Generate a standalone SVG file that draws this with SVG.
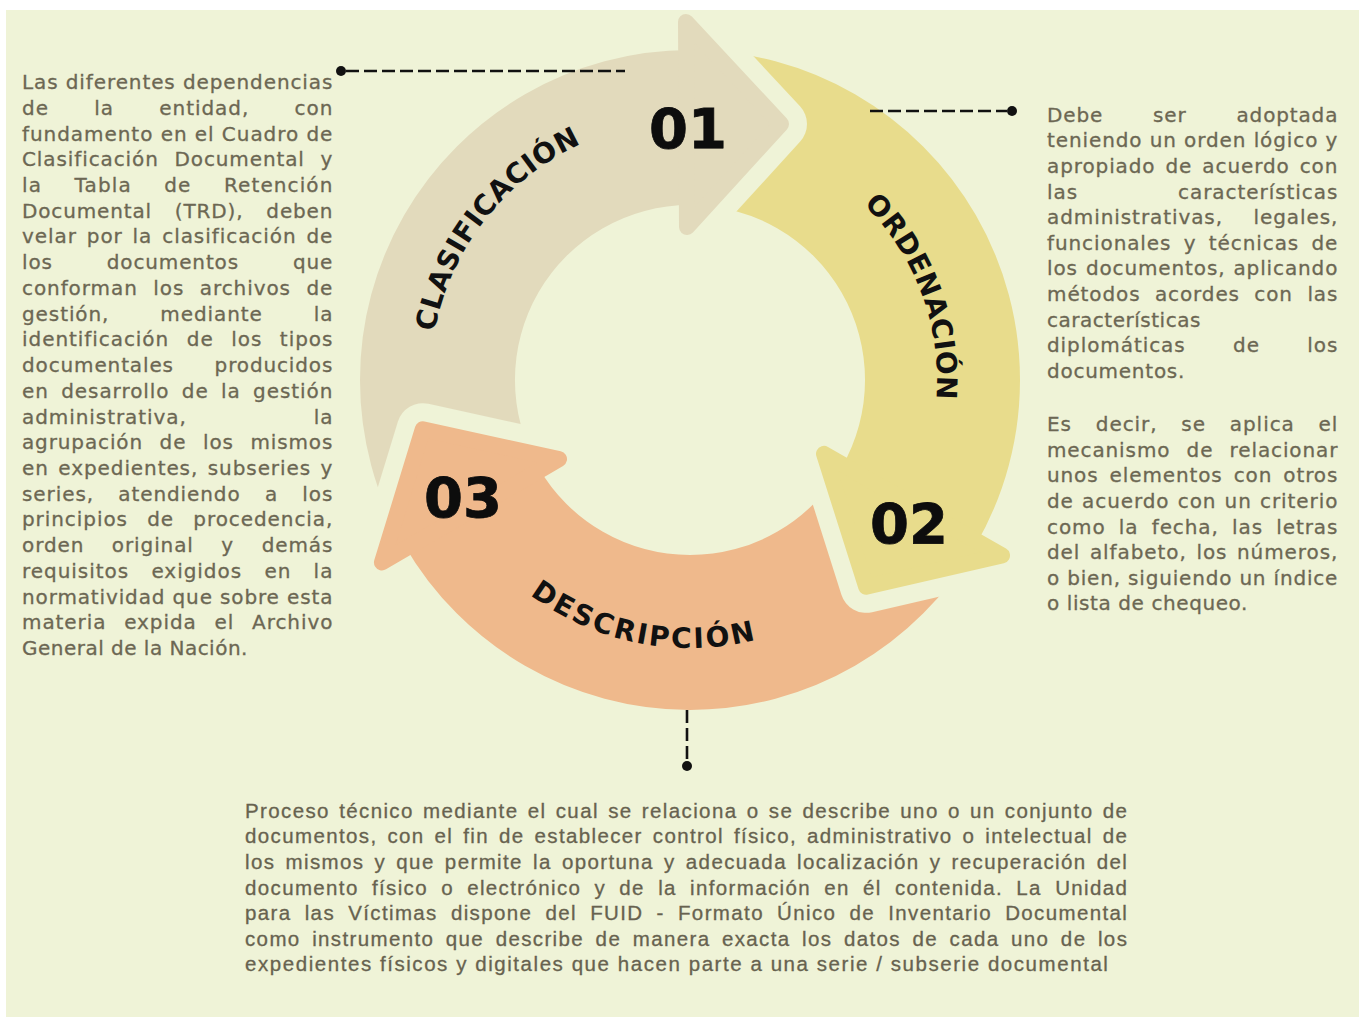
<svg xmlns="http://www.w3.org/2000/svg" width="1359" height="1017" viewBox="0 0 1359 1017">
<style>
.l{font-family:"DejaVu Sans",sans-serif;font-size:20px;letter-spacing:0.6px;fill:#6c6753;stroke:#6c6753;stroke-width:0.3px}
.b{font-family:"Liberation Sans",Arial,sans-serif;font-size:20.5px;letter-spacing:1.1px;fill:#67624f;stroke:#67624f;stroke-width:0.3px}
.arc{font-family:"DejaVu Sans",sans-serif;font-weight:700;font-size:28px;fill:#111}
.num{font-family:"DejaVu Sans",sans-serif;font-weight:700;font-size:56px;fill:#0d0d0d;text-anchor:middle;stroke:#0d0d0d;stroke-width:0.8px}
.cut{fill:#000;stroke:#000;stroke-width:52;stroke-linejoin:round}
.dash{stroke:#111;stroke-width:2.6;stroke-dasharray:13 5;fill:none}
.dot{fill:#111}
</style>
<defs>
<path id="band" d="M404.2,545 A330,330 0 0 1 690,50 L690,205 A175,175 0 0 0 538.4,467.5 Z"/>
<polygon id="head" points="686,22 781,124 687,227"/>
<mask id="mC" maskUnits="userSpaceOnUse" x="0" y="0" width="1359" height="1017"><rect width="1359" height="1017" fill="#fff"/><use href="#head" class="cut" transform="rotate(240 690 380)"/></mask>
<mask id="mO" maskUnits="userSpaceOnUse" x="0" y="0" width="1359" height="1017"><rect width="1359" height="1017" fill="#fff"/><use href="#head" class="cut"/></mask>
<mask id="mD" maskUnits="userSpaceOnUse" x="0" y="0" width="1359" height="1017"><rect width="1359" height="1017" fill="#fff"/><use href="#head" class="cut" transform="rotate(120 690 380)"/></mask>
<path id="pC" d="M469.5,517.8 A260,260 0 0 1 770.3,132.7"/>
<path id="pO" d="M688.3,133 A247,247 0 0 1 850.1,568.1"/>
<path id="pD" d="M425.3,421.9 A268,268 0 0 0 919.7,518"/>
</defs>
<rect x="0" y="0" width="1359" height="1017" fill="#ffffff"/>
<rect x="6" y="10" width="1353" height="1007" fill="#eff3d7"/>

<g id="clasificacion">
<g mask="url(#mC)">
<use href="#band" fill="#e2dabc"/>
<use href="#head" fill="#e2dabc" stroke="#e2dabc" stroke-width="16" stroke-linejoin="round"/>
</g>
<text class="arc" letter-spacing="0.6"><textPath href="#pC" startOffset="50%" text-anchor="middle">CLASIFICACIÓN</textPath></text>
<text class="num" x="688" y="148">01</text>
</g>

<g id="ordenacion">
<g mask="url(#mO)">
<g transform="rotate(120 690 380)">
<use href="#band" fill="#e8dc8c"/>
<use href="#head" fill="#e8dc8c" stroke="#e8dc8c" stroke-width="16" stroke-linejoin="round"/>
</g>
</g>
<text class="arc" letter-spacing="0.4"><textPath href="#pO" startOffset="50%" text-anchor="middle">ORDENACIÓN</textPath></text>
<text class="num" x="909" y="543">02</text>
</g>

<g id="descripcion">
<g mask="url(#mD)">
<g transform="rotate(240 690 380)">
<use href="#band" fill="#efb98c"/>
<use href="#head" fill="#efb98c" stroke="#efb98c" stroke-width="16" stroke-linejoin="round"/>
</g>
</g>
<text class="arc" letter-spacing="2.4"><textPath href="#pD" startOffset="50%" text-anchor="middle">DESCRIPCIÓN</textPath></text>
<text class="num" x="463" y="517">03</text>
</g>

<g id="connectors">
<line class="dash" x1="346" y1="71" x2="625" y2="71"/>
<circle class="dot" cx="341" cy="71" r="5"/>
<line class="dash" x1="870" y1="111" x2="1007" y2="111"/>
<circle class="dot" cx="1012" cy="111" r="5"/>
<line class="dash" x1="687" y1="710" x2="687" y2="762"/>
<circle class="dot" cx="687" cy="766" r="5"/>
</g>

<g id="texto-clasificacion" class="l">
<text x="22" y="89" textLength="311" lengthAdjust="spacing">Las diferentes dependencias</text>
<text x="22" y="114.7" textLength="311" lengthAdjust="spacing" style="word-spacing:38px">de la entidad, con</text>
<text x="22" y="140.5" textLength="311" lengthAdjust="spacing">fundamento en el Cuadro de</text>
<text x="22" y="166.2" textLength="311" lengthAdjust="spacing" style="word-spacing:8.5px">Clasificación Documental y</text>
<text x="22" y="191.9" textLength="311" lengthAdjust="spacing" style="word-spacing:25px">la Tabla de Retención</text>
<text x="22" y="217.7" textLength="311" lengthAdjust="spacing" style="word-spacing:15.7px">Documental (TRD), deben</text>
<text x="22" y="243.4" textLength="311" lengthAdjust="spacing" style="word-spacing:2.6px">velar por la clasificación de</text>
<text x="22" y="269.1" textLength="311" lengthAdjust="spacing" style="word-spacing:46.8px">los documentos que</text>
<text x="22" y="294.8" textLength="311" lengthAdjust="spacing" style="word-spacing:8.3px">conforman los archivos de</text>
<text x="22" y="320.6" textLength="311" lengthAdjust="spacing" style="word-spacing:43.7px">gestión, mediante la</text>
<text x="22" y="346.3" textLength="311" lengthAdjust="spacing" style="word-spacing:10.3px">identificación de los tipos</text>
<text x="22" y="372" textLength="311" lengthAdjust="spacing" style="word-spacing:33.5px">documentales producidos</text>
<text x="22" y="397.8" textLength="311" lengthAdjust="spacing" style="word-spacing:5px">en desarrollo de la gestión</text>
<text x="22" y="423.5" textLength="311" lengthAdjust="spacing" style="word-spacing:119.6px">administrativa, la</text>
<text x="22" y="449.2" textLength="311" lengthAdjust="spacing" style="word-spacing:9.4px">agrupación de los mismos</text>
<text x="22" y="475" textLength="311" lengthAdjust="spacing" style="word-spacing:2.3px">en expedientes, subseries y</text>
<text x="22" y="500.7" textLength="311" lengthAdjust="spacing" style="word-spacing:17px">series, atendiendo a los</text>
<text x="22" y="526.4" textLength="311" lengthAdjust="spacing" style="word-spacing:12px">principios de procedencia,</text>
<text x="22" y="552.1" textLength="311" lengthAdjust="spacing" style="word-spacing:20.3px">orden original y demás</text>
<text x="22" y="577.9" textLength="311" lengthAdjust="spacing" style="word-spacing:15px">requisitos exigidos en la</text>
<text x="22" y="603.6" textLength="311" lengthAdjust="spacing">normatividad que sobre esta</text>
<text x="22" y="629.3" textLength="311" lengthAdjust="spacing" style="word-spacing:10.5px">materia expida el Archivo</text>
<text x="22" y="655" textLength="226" lengthAdjust="spacing">General de la Nación.</text>
</g>

<g id="texto-ordenacion" class="l">
<text x="1047" y="121.5" textLength="291" lengthAdjust="spacing" style="word-spacing:42.7px">Debe ser adoptada</text>
<text x="1047" y="147.2" textLength="291" lengthAdjust="spacing">teniendo un orden lógico y</text>
<text x="1047" y="172.8" textLength="291" lengthAdjust="spacing" style="word-spacing:2.8px">apropiado de acuerdo con</text>
<text x="1047" y="198.5" textLength="291" lengthAdjust="spacing" style="word-spacing:92.7px">las características</text>
<text x="1047" y="224.1" textLength="291" lengthAdjust="spacing" style="word-spacing:23.2px">administrativas, legales,</text>
<text x="1047" y="249.8" textLength="291" lengthAdjust="spacing" style="word-spacing:5.1px">funcionales y técnicas de</text>
<text x="1047" y="275.4" textLength="291" lengthAdjust="spacing" style="word-spacing:0.8px">los documentos, aplicando</text>
<text x="1047" y="301.1" textLength="291" lengthAdjust="spacing" style="word-spacing:7.2px">métodos acordes con las</text>
<text x="1047" y="326.7" textLength="154" lengthAdjust="spacing">características</text>
<text x="1047" y="352.4" textLength="291" lengthAdjust="spacing" style="word-spacing:40.2px">diplomáticas de los</text>
<text x="1047" y="378" textLength="138" lengthAdjust="spacing">documentos.</text>
<text x="1047" y="430.9" textLength="291" lengthAdjust="spacing" style="word-spacing:16.5px">Es decir, se aplica el</text>
<text x="1047" y="456.5" textLength="291" lengthAdjust="spacing" style="word-spacing:9px">mecanismo de relacionar</text>
<text x="1047" y="482.2" textLength="291" lengthAdjust="spacing" style="word-spacing:3.8px">unos elementos con otros</text>
<text x="1047" y="507.8" textLength="291" lengthAdjust="spacing" style="word-spacing:0.9px">de acuerdo con un criterio</text>
<text x="1047" y="533.5" textLength="291" lengthAdjust="spacing" style="word-spacing:5.9px">como la fecha, las letras</text>
<text x="1047" y="559.1" textLength="291" lengthAdjust="spacing" style="word-spacing:2.3px">del alfabeto, los números,</text>
<text x="1047" y="584.8" textLength="291" lengthAdjust="spacing">o bien, siguiendo un índice</text>
<text x="1047" y="610.4" textLength="201" lengthAdjust="spacing">o lista de chequeo.</text>
</g>

<g id="texto-descripcion" class="b">
<text x="245" y="817.5" textLength="883" lengthAdjust="spacing" style="word-spacing:2.2px">Proceso técnico mediante el cual se relaciona o se describe uno o un conjunto de</text>
<text x="245" y="843.2" textLength="883" lengthAdjust="spacing" style="word-spacing:2.9px">documentos, con el fin de establecer control físico, administrativo o intelectual de</text>
<text x="245" y="868.8" textLength="883" lengthAdjust="spacing" style="word-spacing:3.1px">los mismos y que permite la oportuna y adecuada localización y recuperación del</text>
<text x="245" y="894.5" textLength="883" lengthAdjust="spacing" style="word-spacing:6.2px">documento físico o electrónico y de la información en él contenida. La Unidad</text>
<text x="245" y="920.1" textLength="883" lengthAdjust="spacing" style="word-spacing:6.1px">para las Víctimas dispone del FUID - Formato Único de Inventario Documental</text>
<text x="245" y="945.8" textLength="883" lengthAdjust="spacing" style="word-spacing:4.5px">como instrumento que describe de manera exacta los datos de cada uno de los</text>
<text x="245" y="971.4" textLength="864" lengthAdjust="spacing">expedientes físicos y digitales que hacen parte a una serie / subserie documental</text>
</g>
</svg>
